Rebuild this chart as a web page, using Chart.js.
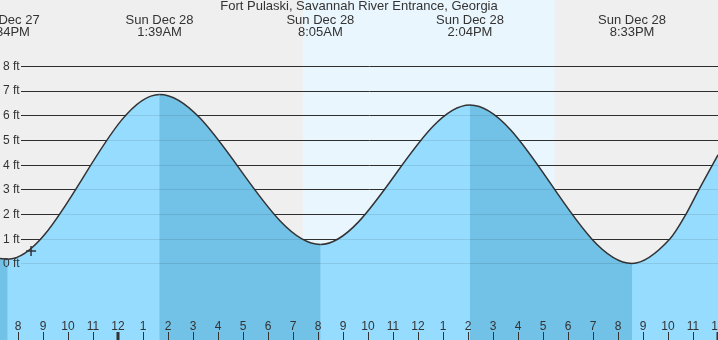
<!DOCTYPE html>
<html>
<head>
<meta charset="utf-8">
<script src="https://cdn.jsdelivr.net/npm/chart.js@4/dist/chart.umd.min.js"></script>
<style>
  html, body { margin: 0; padding: 0; background: #efefef; }
  #tide_chart { display: block; }
</style>
</head>
<body>
<canvas id="tide_chart" width="718" height="340"></canvas>
<script>
// hours are counted from midnight, Sun Dec 28
const tideHours = [-4.732, -4.433, 1.65, 8.083, 14.067, 20.55, 22.07, 22.71, 23.23, 23.988];
const tideFeet = [0.2, 0.17, 6.85, 0.77, 6.42, 0.0, 1.0, 2.0, 3.0, 4.4];

const extremeHours = [-4.433, 1.65, 8.083, 14.067, 20.55];
const extremeDays = ["Sat Dec 27", "Sun Dec 28", "Sun Dec 28", "Sun Dec 28", "Sun Dec 28"];
const extremeTimes = ["7:34PM", "1:39AM", "8:05AM", "2:04PM", "8:33PM"];

const depthTicks = [0, 1, 2, 3, 4, 5, 6, 7, 8];
const hourLabels = ["8", "9", "10", "11", "12", "1", "2", "3", "4", "5", "6", "7", "8", "9", "10", "11",
  "12", "1", "2", "3", "4", "5", "6", "7", "8", "9", "10", "11", "12"];
const firstHour = -4;

const daylight = [7.376, 17.456]; // sunrise, sunset
const nowMark = { x: -3.49, y: 0.5 };

const title = "Fort Pulaski, Savannah River Entrance, Georgia";

const FONT = '"Liberation Sans", Arial, sans-serif';
const RISING = "#96dcfe";
const FALLING = "#72c1e6";

const points = tideHours.map((h, i) => ({ x: h, y: tideFeet[i] }));

function depthLines(chart, color) {
  const { ctx, width, scales: { y } } = chart;
  ctx.save();
  ctx.strokeStyle = color;
  ctx.lineWidth = 1;
  depthTicks.forEach((ft) => {
    const py = Math.round(y.getPixelForValue(ft)) + 0.5;
    ctx.beginPath();
    ctx.moveTo(21, py);
    ctx.lineTo(width, py);
    ctx.stroke();
  });
  ctx.restore();
}

const backdrop = {
  id: "backdrop",
  beforeDatasetsDraw(chart) {
    const { ctx, width, height, scales: { x } } = chart;
    ctx.save();
    ctx.fillStyle = "#efefef";
    ctx.fillRect(0, 0, width, height);
    const x0 = x.getPixelForValue(daylight[0]);
    const x1 = x.getPixelForValue(daylight[1]);
    ctx.fillStyle = "#eaf6fe";
    ctx.fillRect(x0, 0, x1 - x0, height);
    ctx.restore();
    depthLines(chart, "#333");
  },
  afterDatasetsDraw(chart) {
    const { ctx, width, height, scales: { x, y } } = chart;
    // faint pass so the lines still show through the water
    depthLines(chart, "rgba(0, 0, 0, 0.09)");

    ctx.save();
    ctx.fillStyle = "#333";

    // depth labels
    ctx.font = "12px " + FONT;
    ctx.textAlign = "left";
    ctx.textBaseline = "middle";
    depthTicks.forEach((ft) => {
      ctx.fillText(ft + " ft", 3, y.getPixelForValue(ft) + 0.5);
    });

    // hour ticks along the bottom
    ctx.textAlign = "center";
    ctx.textBaseline = "alphabetic";
    ctx.strokeStyle = "#333";
    hourLabels.forEach((lab, i) => {
      const h = firstHour + i;
      const px = Math.round(x.getPixelForValue(h));
      ctx.fillText(lab, px, 330);
      const midnight = h % 24 === 0;
      ctx.lineWidth = midnight ? 3 : 1;
      ctx.beginPath();
      ctx.moveTo(midnight ? px : px + 0.5, 332);
      ctx.lineTo(midnight ? px : px + 0.5, height);
      ctx.stroke();
    });

    // high / low tide times
    ctx.font = "13px " + FONT;
    extremeHours.forEach((h, i) => {
      const px = x.getPixelForValue(h);
      ctx.fillText(extremeDays[i], px, 24);
      ctx.fillText(extremeTimes[i], px, 36);
    });

    ctx.fillText(title, width / 2, 10);
    ctx.restore();
  },
};

const config = {
  type: "line",
  data: {
    datasets: [
      {
        label: "now",
        data: [nowMark],
        order: 0,
        showLine: false,
        pointStyle: "cross",
        pointRadius: 5,
        borderWidth: 1.5,
        borderColor: "#333",
      },
      {
        label: "tide",
        data: points,
        order: 1,
        borderColor: "#333",
        borderWidth: 1.5,
        pointRadius: 0,
        cubicInterpolationMode: "monotone",
        fill: "start",
        backgroundColor: RISING,
        segment: {
          backgroundColor: (c) => (c.p1.parsed.y >= c.p0.parsed.y ? RISING : FALLING),
        },
      },
      {
        // plain water under the tide, hides seams between fill segments
        label: "water",
        data: points,
        order: 2,
        borderWidth: 0,
        pointRadius: 0,
        cubicInterpolationMode: "monotone",
        fill: "start",
        backgroundColor: "#84cef2",
      },
    ],
  },
  options: {
    responsive: false,
    animation: false,
    layout: { padding: 0, autoPadding: false },
    plugins: { legend: { display: false }, tooltip: { enabled: false } },
    scales: {
      x: { type: "linear", display: false, min: -4.732, max: 23.988 },
      y: { display: false, min: -3.104, max: 10.675 },
    },
  },
  plugins: [backdrop],
};

const tide_chart = new Chart(document.getElementById("tide_chart"), config);
</script>
</body>
</html>
